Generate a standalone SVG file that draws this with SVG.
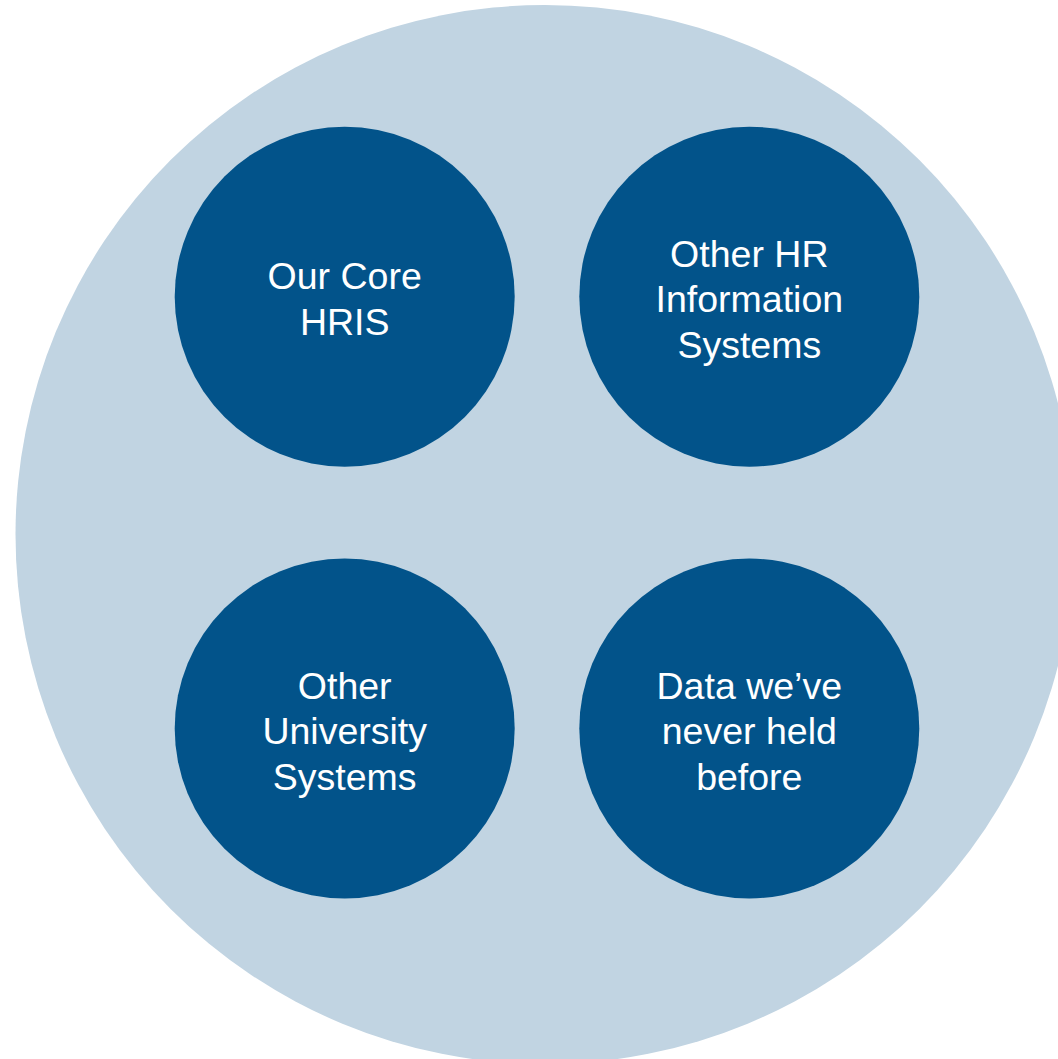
<svg xmlns="http://www.w3.org/2000/svg" width="1058" height="1059" viewBox="0 0 1058 1059">
  <style>
    .outer { fill: #C1D4E2; }
    .node { fill: #02538A; }
    .label { fill: #FFFFFF; font-family: "Liberation Sans", Arial, sans-serif; font-size: 37.5px; text-anchor: middle; }
  </style>
  <rect width="1058" height="1059" fill="#FFFFFF"/>
  <!-- enclosing circle -->
  <g id="container">
    <circle class="outer" cx="545" cy="534.5" r="529.5"/>
  </g>
  <g id="connectors"></g>
  <g id="core-hris">
    <circle class="node" cx="344.7" cy="296.7" r="170"/>
    <text class="label" x="344.7"><tspan x="344.7" y="288.5">Our Core</tspan><tspan x="344.7" y="334.5">HRIS</tspan></text>
  </g>
  <g id="other-hr">
    <circle class="node" cx="749.3" cy="296.7" r="170"/>
    <text class="label" x="749.3"><tspan x="749.3" y="266.5">Other HR</tspan><tspan x="749.3" y="312">Information</tspan><tspan x="749.3" y="357.5">Systems</tspan></text>
  </g>
  <g id="university-systems">
    <circle class="node" cx="344.7" cy="728.5" r="170"/>
    <text class="label" x="344.7"><tspan x="344.7" y="698.5">Other</tspan><tspan x="344.7" y="744">University</tspan><tspan x="344.7" y="789.5">Systems</tspan></text>
  </g>
  <g id="new-data">
    <circle class="node" cx="749.3" cy="728.5" r="170"/>
    <text class="label" x="749.3"><tspan x="749.3" y="698.5">Data we’ve</tspan><tspan x="749.3" y="744">never held</tspan><tspan x="749.3" y="789.5">before</tspan></text>
  </g>
</svg>
